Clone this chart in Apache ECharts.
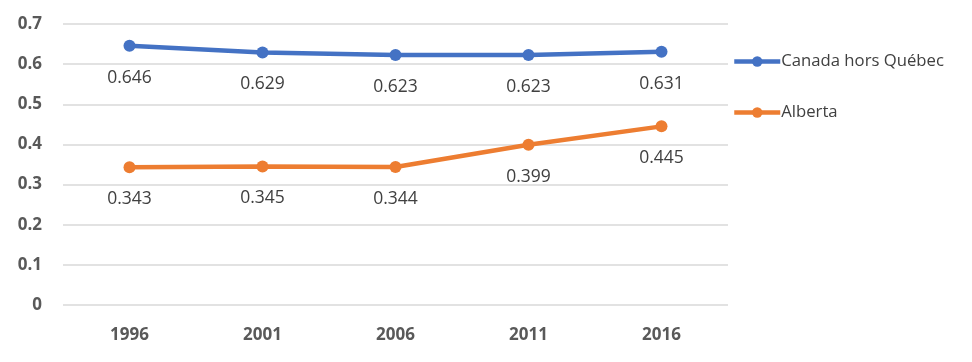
<!DOCTYPE html>
<html><head><meta charset="utf-8">
<script src="https://cdn.jsdelivr.net/npm/echarts@6/dist/echarts.min.js"></script>
<style>html,body{margin:0;padding:0;background:#fff}#c{width:972px;height:362px}</style>
</head><body><div id="c"></div>
<script>
const categories = ['1996','2001','2006','2011','2016'];
const canadaName = 'Canada hors Québec';
const canadaValues = [0.646, 0.629, 0.623, 0.623, 0.631];
const albertaName = 'Alberta';
const albertaValues = [0.343, 0.345, 0.344, 0.399, 0.445];
const yTicks = [0, 0.1, 0.2, 0.3, 0.4, 0.5, 0.6, 0.7];

const chart = echarts.init(document.getElementById('c'));
const font = '"Open Sans", "Liberation Sans", sans-serif';
function mk(name, data, color){
  return {
    name, type:'line', data, symbol:'circle', symbolSize:12,
    lineStyle:{width:4.5, color}, itemStyle:{color},
    label:{show:true, position:'bottom', distance:17, color:'#404040', fontSize:17.5, fontFamily:font,
      formatter:p=>p.value.toFixed(3)},
    emphasis:{disabled:true}
  };
}
chart.setOption({
  animation:false,
  grid:{left:63, right:244, top:24, bottom:57, containLabel:false},
  legend:{orient:'vertical', left:727, top:48, itemWidth:46, itemHeight:13, itemGap:34,
    lineStyle:{width:4.5},
    textStyle:{color:'#404040', fontSize:16.7, fontFamily:font, padding:[0,0,0,-4]},
    data:[canadaName, albertaName]},
  xAxis:{type:'category', data:categories, boundaryGap:true,
    axisLine:{show:false}, axisTick:{show:false},
    axisLabel:{color:'#595959', fontSize:17, fontWeight:'bold', fontFamily:font, margin:22}},
  yAxis:{type:'value', min:0, max:0.7, interval:0.1,
    axisLine:{show:false}, axisTick:{show:false},
    splitLine:{lineStyle:{color:'#d9d9d9', width:1.5}},
    axisLabel:{color:'#595959', fontSize:17, fontWeight:'bold', fontFamily:font, margin:21,
      formatter:v=>{const t=yTicks.find(x=>Math.abs(x-v)<1e-9); return t===0?'0':String(+v.toFixed(1));}}},
  series:[mk(canadaName, canadaValues, '#4472C4'), mk(albertaName, albertaValues, '#ED7D31')]
});
</script></body></html>
